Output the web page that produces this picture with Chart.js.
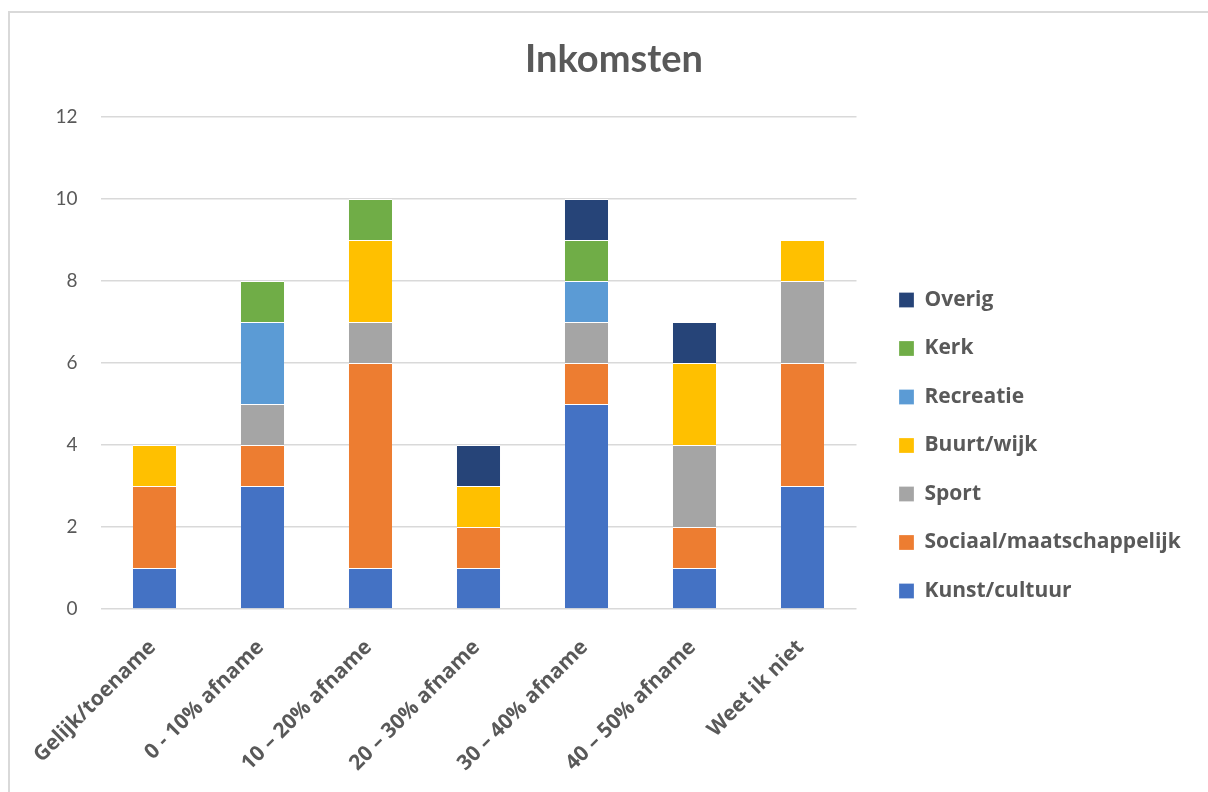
<!DOCTYPE html>
<html>
<head>
<meta charset="utf-8">
<script src="https://cdn.jsdelivr.net/npm/chart.js@4/dist/chart.umd.min.js"></script>
<style>
  html, body { margin: 0; padding: 0; background: #ffffff; overflow: hidden; }
  #wrap { position: relative; width: 1208px; height: 792px; }
  #frame { position: absolute; left: 8px; top: 11px; width: 1300px; height: 900px;
           border-left: 2px solid #d9d9d9; border-top: 2px solid #d9d9d9; pointer-events: none; }
  canvas { position: absolute; left: 0; top: 0; }
</style>
</head>
<body>
<div id="wrap">
  <canvas id="c" width="1208" height="792"></canvas>
  <div id="frame"></div>
</div>
<script>
const categories = ["Gelijk/toename", "0 - 10% afname", "10 – 20% afname", "20 – 30% afname", "30 – 40% afname", "40 – 50% afname", "Weet ik niet"];
const seriesNames = ["Kunst/cultuur", "Sociaal/maatschappelijk", "Sport", "Buurt/wijk", "Recreatie", "Kerk", "Overig"];
const kunstCultuur = [1, 3, 1, 1, 5, 1, 3];
const sociaalMaatschappelijk = [2, 1, 5, 1, 1, 1, 3];
const sport = [0, 1, 1, 0, 1, 2, 2];
const buurtWijk = [1, 0, 2, 1, 0, 2, 1];
const recreatie = [0, 2, 0, 0, 1, 0, 0];
const kerk = [0, 1, 1, 0, 1, 0, 0];
const overig = [0, 0, 0, 1, 1, 1, 0];
const yTicks = [0, 2, 4, 6, 8, 10, 12];

const TEXT = '#595959';
Chart.defaults.font.family = 'Lato, "Open Sans", sans-serif';
Chart.defaults.color = TEXT;

// legend sizing (layout only)
const LG_SIZE = 21, LG_BOX = 15, LG_PAD = 27.5;
const mctx = document.createElement('canvas').getContext('2d');
mctx.font = 'bold ' + LG_SIZE + 'px "Open Sans", sans-serif';
const longest = Math.max(...seriesNames.map(n => mctx.measureText(n).width));
const LEGEND_W = LG_PAD + LG_BOX + LG_SIZE + longest - 2;
const PAD_R = Math.max(0, 1208 - 856.5 - 15 - LEGEND_W);
const PAD_L = 20 + PAD_R;

function ds(label, data, color) {
  return {
    label, data, backgroundColor: color,
    borderColor: '#ffffff',
    borderWidth: { top: 1, left: 0, right: 0, bottom: 0 },
    borderSkipped: false,
    categoryPercentage: 1.0, barPercentage: 0.4,
    yAxisID: 'y'
  };
}

new Chart(document.getElementById('c'), {
  type: 'bar',
  data: {
    labels: categories,
    datasets: [
      ds(seriesNames[0], kunstCultuur, '#4472C4'),
      ds(seriesNames[1], sociaalMaatschappelijk, '#ED7D31'),
      ds(seriesNames[2], sport, '#A5A5A5'),
      ds(seriesNames[3], buurtWijk, '#FFC000'),
      ds(seriesNames[4], recreatie, '#5B9BD5'),
      ds(seriesNames[5], kerk, '#70AD47'),
      ds(seriesNames[6], overig, '#264478')
    ]
  },
  options: {
    responsive: false,
    animation: false,
    layout: { padding: { left: PAD_L, right: PAD_R, top: 0, bottom: 0 } },
    plugins: {
      title: {
        display: true, text: 'Inkomsten', color: TEXT,
        font: { size: 38, weight: 'bold' },
        padding: { top: 37, bottom: 34.4 }
      },
      legend: {
        position: 'right',
        reverse: true,
        maxWidth: LEGEND_W,
        title: { display: true, text: '', font: { size: 12 }, padding: { top: 0, bottom: 84.6 } },
        labels: {
          boxWidth: LG_BOX, boxHeight: LG_BOX,
          padding: LG_PAD,
          color: TEXT,
          font: { family: '"Open Sans", sans-serif', size: LG_SIZE, weight: 'bold' }
        }
      },
      tooltip: { enabled: false }
    },
    scales: {
      x: {
        stacked: true,
        grid: { display: false, drawTicks: false },
        border: { display: false },
        ticks: {
          autoSkip: false, maxRotation: 45, minRotation: 45,
          padding: 26, labelOffset: -2, color: TEXT,
          font: { family: '"Open Sans", sans-serif', size: 21, weight: 'bold' }
        },
        afterFit: (s) => { s.height = 183; }
      },
      y: {
        stacked: true,
        min: 0, max: 12,
        afterBuildTicks: (s) => { s.ticks = yTicks.map(v => ({ value: v })); },
        grid: { color: '#d9d9d9', lineWidth: 1.5, drawTicks: false },
        border: { display: false },
        ticks: { padding: 23, color: TEXT, font: { size: 19 } },
        afterFit: (s) => { s.width = 100.5 - PAD_L; }
      },
      pad: {
        type: 'linear', position: 'right', display: true, weight: 0,
        grid: { display: false, drawTicks: false },
        border: { display: false },
        ticks: { display: false },
        afterFit: (s) => { s.width = 15; }
      }
    }
  }
});
</script>
</body>
</html>
